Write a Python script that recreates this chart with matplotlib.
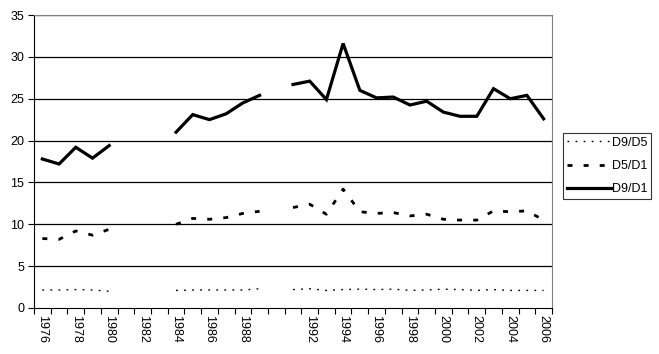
import matplotlib.pyplot as plt
import numpy as np

plt.rcParams['font.family'] = ['Liberation Sans', 'DejaVu Sans']

years = list(range(1976, 2007))
# None = no survey that year
d9_d5 = [2.15, 2.15, 2.2, 2.15, 2.0, None, None, None,
         2.1, 2.15, 2.15, 2.15, 2.15, 2.3, None,
         2.2, 2.3, 2.1, 2.2, 2.25, 2.2, 2.25, 2.1, 2.15, 2.25,
         2.2, 2.1, 2.2, 2.1, 2.1, 2.1]
d5_d1 = [8.3, 8.2, 9.2, 8.7, 9.4, None, None, None,
         10.0, 10.7, 10.6, 10.8, 11.3, 11.55, None,
         12.0, 12.4, 11.2, 14.2, 11.5, 11.3, 11.4, 11.0, 11.2, 10.6,
         10.5, 10.5, 11.6, 11.5, 11.6, 10.5]
d9_d1 = [17.8, 17.2, 19.2, 17.9, 19.4, None, None, None,
         21.0, 23.1, 22.5, 23.2, 24.5, 25.4, None,
         26.7, 27.1, 24.9, 31.6, 26.0, 25.1, 25.2, 24.25, 24.7, 23.4,
         22.9, 22.9, 26.2, 25.0, 25.4, 22.6]
# the 1990 category has no label in the source
tick_labels = [str(y) if (y - 1976) % 2 == 0 and y != 1990 else '' for y in years]


def arr(vals):
    return np.array([np.nan if v is None else v for v in vals], dtype=float)


fig = plt.figure(figsize=(6.59, 3.54), dpi=100)
ax = fig.add_axes([34 / 659, 46 / 354, 518 / 659, 293 / 354])

x = np.arange(len(years))
ax.plot(x, arr(d9_d5), color='black', lw=1.0, linestyle=(0, (1.3, 4.5)), label='D9/D5')
ax.plot(x, arr(d5_d1), color='black', lw=2.0, linestyle=(0, (1.8, 4.0)), label='D5/D1')
ax.plot(x, arr(d9_d1), color='black', lw=2.3, solid_joinstyle='miter', label='D9/D1')

ax.set_xlim(-0.5, len(years) - 0.5)
ax.set_ylim(0, 35)
ax.set_yticks(range(0, 36, 5))
for yv in range(5, 36, 5):
    ax.axhline(yv, color='black', lw=0.9, zorder=0)

ax.set_xticks(np.arange(-0.5, len(years), 1.0))
ax.set_xticklabels([])
ax.set_xticks(x, minor=True)
ax.set_xticklabels(tick_labels, minor=True, rotation=-90, fontsize=9)
ax.tick_params(axis='x', which='major', length=4, direction='out', width=0.8)
ax.tick_params(axis='x', which='minor', length=0, pad=5)
ax.tick_params(axis='y', length=4, direction='out', width=0.8, labelsize=9, pad=3)

ax.spines['left'].set_color('black')
ax.spines['bottom'].set_color('black')
ax.spines['top'].set_color('#808080')
ax.spines['right'].set_color('#808080')

leg = fig.legend(loc='upper left', bbox_to_anchor=(563 / 659, 1 - 133 / 354),
                 fontsize=9, frameon=True, fancybox=False, handlelength=3.5,
                 handletextpad=0.1, borderpad=0.3, borderaxespad=0,
                 labelspacing=0.9)
leg.get_frame().set_edgecolor('black')
leg.get_frame().set_linewidth(0.8)

fig.savefig('out.png', dpi=100)
